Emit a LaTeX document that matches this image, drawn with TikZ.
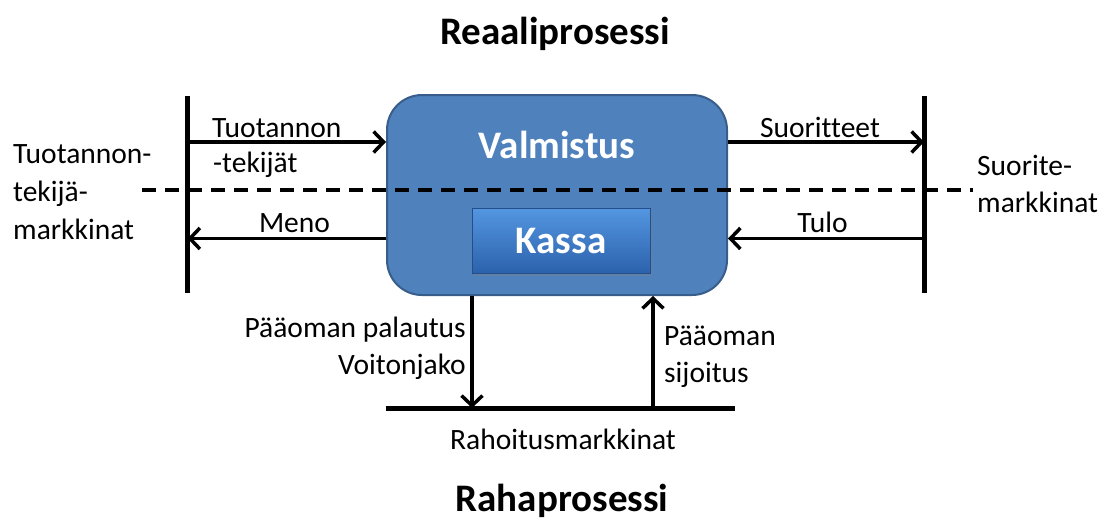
\documentclass[tikz,border=0pt]{standalone}
\usepackage{fontspec}
\setmainfont{Carlito}[Ligatures={NoCommon}]
\usetikzlibrary{arrows.meta,shadows}
\definecolor{boxblue}{RGB}{79,129,189}
\definecolor{boxedge}{RGB}{56,93,138}
\definecolor{kassatop}{RGB}{84,150,225}
\definecolor{kassabot}{RGB}{44,98,172}
\tikzset{
  lbl/.style={font=\fontsize{29.5}{36}\selectfont, inner sep=0pt, text=black},
  ttl/.style={font=\fontsize{39}{44}\selectfont\bfseries, inner sep=0pt},
  wtxt/.style={font=\fontsize{39}{44}\selectfont\bfseries, text=white, inner sep=0pt},
  bar/.style={line width=5pt, draw=black},
  arr/.style={line width=3.5pt, -{Straight Barb[length=10pt,width=21pt,line width=3.5pt]}},
  mainbox/.style={draw=boxedge, line width=2pt, fill=boxblue, rounded corners=35pt,
    minimum width=340pt, minimum height=200pt, inner sep=0pt},
  kassabox/.style={draw=kassabot!80!black, line width=0.8pt, top color=kassatop, bottom color=kassabot,
    minimum width=178pt, minimum height=65pt, inner sep=0pt,
    drop shadow={opacity=0.35, shadow xshift=2pt, shadow yshift=-3pt}},
  dash line/.style={line width=4pt, dash pattern=on 14pt off 9pt}
}
\begin{document}
\begin{tikzpicture}[x=1pt,y=-1pt]
\useasboundingbox (0,0) rectangle (1104,522);
% titles
\node[ttl, anchor=base] (t1) at (555,45) {Reaaliprosessi};
\node[ttl, anchor=base] (t2) at (562,511) {Rahaprosessi};
% main box
\node[mainbox] (valm) at (557,195) {};
\node[wtxt, anchor=base] (valmtxt) at (557,158) {Valmistus};
\node[kassabox, wtxt] (kassa) at (561,240.5) {Kassa};
% bars
\coordinate (L1) at (187.5,96);
\coordinate (L2) at (187.5,293);
\coordinate (R1) at (924,96);
\coordinate (R2) at (924,293);
\coordinate (B1) at (386,408);
\coordinate (B2) at (735,408);
\draw[bar] (L1) -- (L2);
\draw[bar] (R1) -- (R2);
\draw[bar] (B1) -- (B2);
% dashed line
\coordinate (D1) at (142,190);
\coordinate (D2) at (973,190);
\draw[dash line] (D1) -- (D2);
% horizontal arrows
\coordinate (a1) at (187.5,142);
\coordinate (a2) at (187.5,238.5);
\coordinate (a3) at (924,142);
\coordinate (a4) at (924,238.5);
\draw[arr] (a1) -- (valm.west |- a1);
\draw[arr] (valm.west |- a2) -- (a2);
\draw[arr] (valm.east |- a3) -- (a3);
\draw[arr] (a4) -- (valm.east |- a4);
% vertical arrows
\coordinate (v1) at (472,408);
\coordinate (v2) at (653,408);
\draw[arr] (valm.south -| v1) -- (v1);
\draw[arr] (v2) -- (valm.south -| v2);
% labels
\node[lbl, anchor=base west] (l1) at (212,137) {Tuotannon};
\node[lbl, anchor=base west] (l2) at (213,172) {-tekijät};
\node[lbl, anchor=base] (l3) at (294.5,232) {Meno};
\node[lbl, anchor=base] (l4) at (820,137) {Suoritteet};
\node[lbl, anchor=base] (l5) at (822.5,232) {Tulo};
\node[lbl, anchor=base west] (m1) at (13,163) {Tuotannon-};
\node[lbl, anchor=base west] (m2) at (13,201) {tekijä-};
\node[lbl, anchor=base west] (m3) at (13,239) {markkinat};
\node[lbl, anchor=base west] (s1) at (977,175) {Suorite-};
\node[lbl, anchor=base west] (s2) at (977,212) {markkinat};
\node[lbl, anchor=base east] (p1) at (466,337) {Pääoman palautus};
\node[lbl, anchor=base east] (p2) at (466,374) {Voitonjako};
\node[lbl, anchor=base west] (q1) at (664,345) {Pääoman};
\node[lbl, anchor=base west] (q2) at (664,382) {sijoitus};
\node[lbl, anchor=base] (r1) at (563,449) {Rahoitusmarkkinat};
\end{tikzpicture}
\end{document}
